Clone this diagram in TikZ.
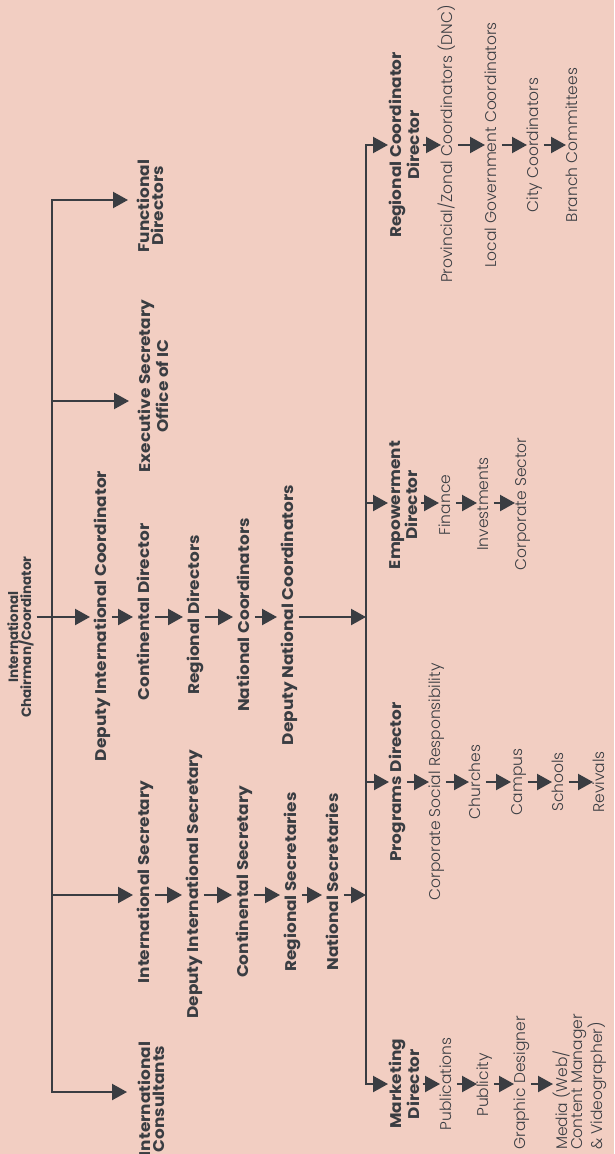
\documentclass[tikz,border=0pt]{standalone}
\usepackage{fontspec}
\setmainfont{Poppins}
\newfontfamily\bfam{Poppins}[FakeStretch=1.09]
\newfontfamily\lfam{Poppins Light}
\usetikzlibrary{arrows.meta}
\definecolor{bgpeach}{HTML}{F2CEC2}
\definecolor{ink}{HTML}{3A3D42}
\begin{document}
\begin{tikzpicture}[x=1pt,y=-1pt,
  boldtxt/.style={rotate=90, anchor=north, inner sep=0pt, text=ink, font=\bfam\bfseries\fontsize{15.5}{14}\selectfont},
  roottxt/.style={rotate=90, anchor=north, inner sep=0pt, text=ink, align=center, font=\bfseries\fontsize{13.5}{13}\selectfont},
  lighttxt/.style={rotate=90, anchor=north, inner sep=0pt, text=ink, font=\lfam\fontsize{15.5}{13.5}\selectfont},
  oneline/.style={text height=11.5pt, text depth=2pt},
  twoline/.style={align=center},
  wire/.style={draw=ink, line width=2.2pt, line cap=rect},
  arr/.style={draw=ink, line width=2.2pt, -{Triangle[length=15pt,width=16pt]}},
  chainb/.style={arr, shorten <=3pt, shorten >=5pt},
  chainl/.style={arr, shorten <=3pt},
]
\fill[bgpeach] (0,0) rectangle (614,1154);
\useasboundingbox (0,0) rectangle (614,1154);

% top level
\node[roottxt] (root) at (7,637) {International\\Chairman/Coordinator};
\node[boldtxt,twoline] (fd) at (137,206) {Functional\\Directors};
\node[boldtxt,twoline] (es) at (138,386) {Executive Secretary\\Office of IC};
\node[boldtxt,twoline] (ic) at (138,1099) {International\\Consultants};

% chain A
\node[boldtxt,oneline] (dic) at (95,616) {Deputy International Coordinator};
\node[boldtxt,oneline] (cd) at (138,612) {Continental Director};
\node[boldtxt,oneline] (rd) at (188,615) {Regional Directors};
\node[boldtxt,oneline] (nc) at (238,615) {National Coordinators};
\node[boldtxt,oneline] (dnc) at (282,615) {Deputy National Coordinators};

% chain B
\node[boldtxt,oneline] (is) at (138,882) {International Secretary};
\node[boldtxt,oneline] (dis) at (187,884) {Deputy International Secretary};
\node[boldtxt,oneline] (cs) at (237,882) {Continental Secretary};
\node[boldtxt,oneline] (rs) at (285,882) {Regional Secretaries};
\node[boldtxt,oneline] (ns) at (327,882) {National Secretaries};

% chain C
\node[boldtxt,twoline] (rcd) at (389,145) {Regional Coordinator\\Director};
\node[lighttxt,oneline] (pzc) at (441,144) {Provincial/Zonal Coordinators (DNC)};
\node[lighttxt,oneline] (lgc) at (485,145) {Local Government Coordinators};
\node[lighttxt,oneline] (cc) at (527,145) {City Coordinators};
\node[lighttxt,oneline] (bc) at (566,145) {Branch Committees};

% chain D
\node[boldtxt,twoline] (ed) at (389,505) {Empowerment\\Director};
\node[lighttxt,oneline] (fin) at (439,505) {Finance};
\node[lighttxt,oneline] (inv) at (477,504) {Investments};
\node[lighttxt,oneline] (corp) at (515,504) {Corporate Sector};

% chain E
\node[boldtxt,oneline] (pd) at (390,782) {Programs Director};
\node[lighttxt,oneline] (csr) at (429,782) {Corporate Social Responsibility};
\node[lighttxt,oneline] (chu) at (469,782) {Churches};
\node[lighttxt,oneline] (cam) at (511,782) {Campus};
\node[lighttxt,oneline] (sch) at (552,782) {Schools};
\node[lighttxt,oneline] (rev) at (593,782) {Revivals};

% chain F
\node[boldtxt,twoline] (md) at (389,1084) {Marketing\\Director};
\node[lighttxt,oneline] (pub) at (440,1084) {Publications};
\node[lighttxt,oneline] (pcity) at (477,1085) {Publicity};
\node[lighttxt,oneline] (gd) at (514,1083) {Graphic Designer};
\node[lighttxt,align=left] (media) at (553,1082) {Media (Web/\\Content Manager\\\& Videographer)};

% junctions
\coordinate (v1a) at (52,200);
\coordinate (v1e) at (52,401);
\coordinate (v1s) at (52,895);
\coordinate (v1b) at (52,1092);
\coordinate (v2a) at (366,145);
\coordinate (v2d) at (366,503);
\coordinate (v2e) at (366,782);
\coordinate (v2b) at (366,1084);
\coordinate (rowA) at (0,617);
\coordinate (rowB) at (0,895);

% trunk lines
\draw[wire] (v1a) -- (v1b);
\draw[wire] (v2a) -- (v2b);

% first level branches
\draw[arr,shorten >=9pt] (v1a) -- (v1a -| fd.north);
\draw[arr,shorten >=9pt] (v1e) -- (v1e -| es.north);
\draw[arr,shorten <=3pt,shorten >=5pt] (root.south |- rowA) -- (dic.north |- rowA);
\draw[arr,shorten >=5pt] (v1s) -- (v1s -| is.north);
\draw[arr,shorten >=11pt] (v1b) -- (v1b -| ic.north);

% chain A
\draw[chainb] (dic.south |- rowA) -- (cd.north |- rowA);
\draw[chainb] (cd.south |- rowA) -- (rd.north |- rowA);
\draw[chainb] (rd.south |- rowA) -- (nc.north |- rowA);
\draw[chainb] (nc.south |- rowA) -- (dnc.north |- rowA);
\draw[arr,shorten <=3pt] (dnc.south |- rowA) -- (v2a |- rowA);

% chain B
\draw[chainb] (is.south |- rowB) -- (dis.north |- rowB);
\draw[chainb] (dis.south |- rowB) -- (cs.north |- rowB);
\draw[chainb] (cs.south |- rowB) -- (rs.north |- rowB);
\draw[chainb] (rs.south |- rowB) -- (ns.north |- rowB);
\draw[arr,shorten <=3pt] (ns.south |- rowB) -- (v2a |- rowB);

% second level branches
\draw[arr,shorten >=1pt] (v2a) -- (v2a -| rcd.north);
\draw[arr,shorten >=1pt] (v2d) -- (v2d -| ed.north);
\draw[arr,shorten >=1pt] (v2e) -- (v2e -| pd.north);
\draw[arr,shorten >=1pt] (v2b) -- (v2b -| md.north);

% chain C
\draw[chainl] (rcd.south |- v2a) -- (pzc.north |- v2a);
\draw[chainl] (pzc.south |- v2a) -- (lgc.north |- v2a);
\draw[chainl] (lgc.south |- v2a) -- (cc.north |- v2a);
\draw[chainl] (cc.south |- v2a) -- (bc.north |- v2a);

% chain D
\draw[chainl] (ed.south |- v2d) -- (fin.north |- v2d);
\draw[chainl] (fin.south |- v2d) -- (inv.north |- v2d);
\draw[chainl] (inv.south |- v2d) -- (corp.north |- v2d);

% chain E
\draw[chainl] (pd.south |- v2e) -- (csr.north |- v2e);
\draw[chainl] (csr.south |- v2e) -- (chu.north |- v2e);
\draw[chainl] (chu.south |- v2e) -- (cam.north |- v2e);
\draw[chainl] (cam.south |- v2e) -- (sch.north |- v2e);
\draw[chainl] (sch.south |- v2e) -- (rev.north |- v2e);

% chain F
\draw[chainl] (md.south |- v2b) -- (pub.north |- v2b);
\draw[chainl] (pub.south |- v2b) -- (pcity.north |- v2b);
\draw[chainl] (pcity.south |- v2b) -- (gd.north |- v2b);
\draw[chainl] (gd.south |- v2b) -- (media.north |- v2b);
\end{tikzpicture}
\end{document}
